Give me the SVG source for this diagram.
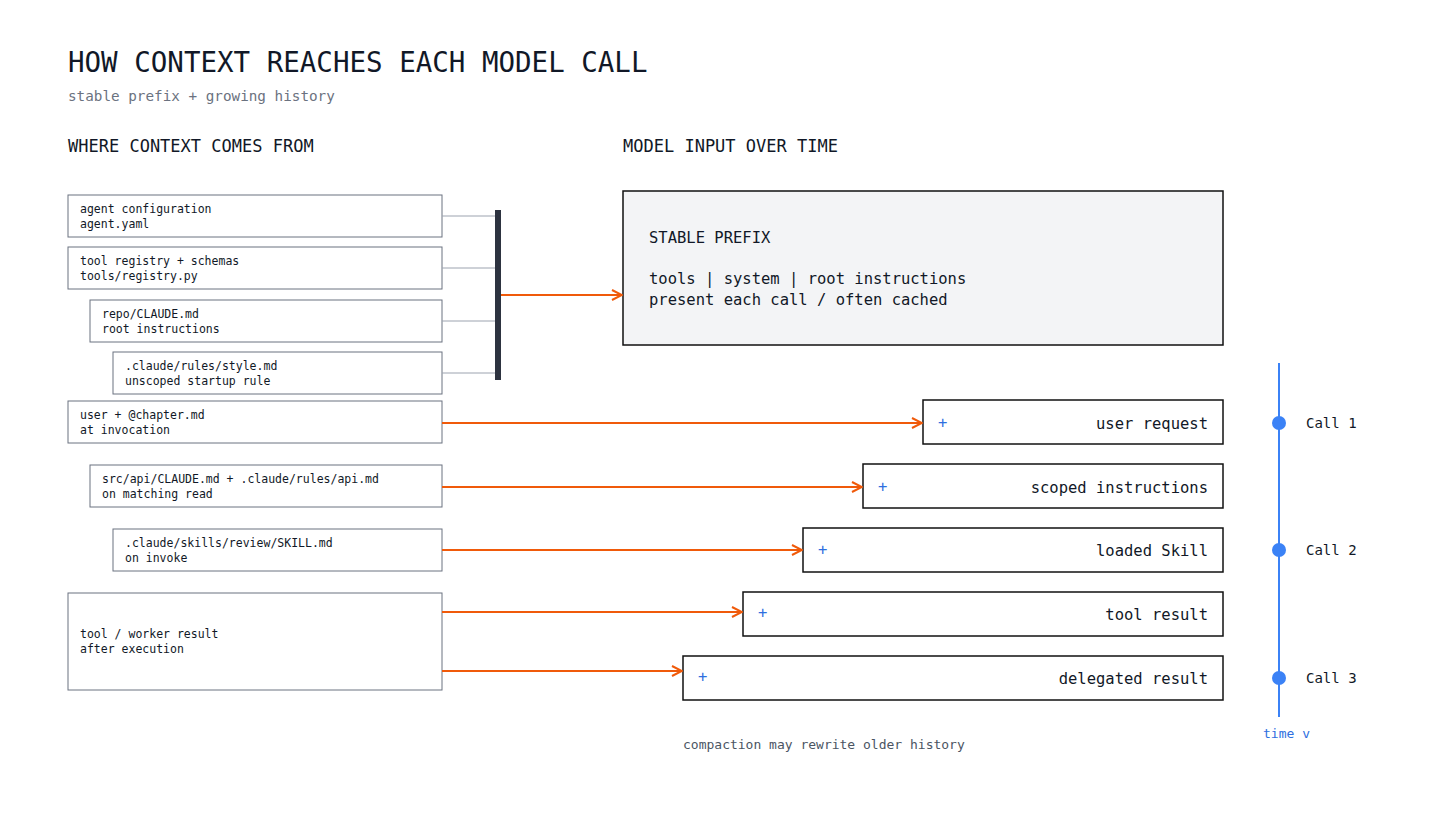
<svg xmlns="http://www.w3.org/2000/svg" width="1456" height="826" viewBox="0 0 1456 826">
<style>
text{font-family:"DejaVu Sans Mono","Liberation Mono",monospace;fill:#111827}
.src rect{fill:#fff;stroke:#6b7280;stroke-width:1}
.src text{font-size:11.5px}
.in rect{fill:#fff;stroke:#111;stroke-width:1.5}
.in text{font-size:15.5px}
.plus{fill:#2f6fe0 !important;font-size:15px}
.o{stroke:#f05a0a;stroke-width:2;fill:none;marker-end:url(#a)}
.g{stroke:#9ca3af;stroke-width:1}
.call{font-size:14px}
</style>
<defs><marker id="a" viewBox="0 0 12 12" refX="11" refY="6" markerWidth="12" markerHeight="12" markerUnits="userSpaceOnUse" orient="auto"><path d="M1,1 L11,6 L1,11" fill="none" stroke="#f05a0a" stroke-width="2"/></marker></defs>
<rect width="1456" height="826" fill="#fff"/>
<text x="68" y="72" font-size="27.5">HOW CONTEXT REACHES EACH MODEL CALL</text>
<text x="68" y="101" font-size="14.3" style="fill:#6b7280">stable prefix + growing history</text>
<text x="68" y="152" font-size="17">WHERE CONTEXT COMES FROM</text>
<text x="623" y="152" font-size="17">MODEL INPUT OVER TIME</text>
<g id="s1" class="src"><rect x="68" y="195" width="374" height="42"/><text x="80" y="213">agent configuration</text><text x="80" y="228">agent.yaml</text></g>
<g id="s2" class="src"><rect x="68" y="247" width="374" height="42"/><text x="80" y="265">tool registry + schemas</text><text x="80" y="280">tools/registry.py</text></g>
<g id="s3" class="src"><rect x="90" y="300" width="352" height="42"/><text x="102" y="318">repo/CLAUDE.md</text><text x="102" y="333">root instructions</text></g>
<g id="s4" class="src"><rect x="113" y="352" width="329" height="42"/><text x="125" y="370">.claude/rules/style.md</text><text x="125" y="385">unscoped startup rule</text></g>
<g id="s5" class="src"><rect x="68" y="401" width="374" height="42"/><text x="80" y="419">user + @chapter.md</text><text x="80" y="434">at invocation</text></g>
<g id="s6" class="src"><rect x="90" y="465" width="352" height="42"/><text x="102" y="483">src/api/CLAUDE.md + .claude/rules/api.md</text><text x="102" y="498">on matching read</text></g>
<g id="s7" class="src"><rect x="113" y="529" width="329" height="42"/><text x="125" y="547">.claude/skills/review/SKILL.md</text><text x="125" y="562">on invoke</text></g>
<g id="s8" class="src"><rect x="68" y="593" width="374" height="97"/><text x="80" y="638">tool / worker result</text><text x="80" y="653">after execution</text></g>
<g id="bar"><rect x="495" y="210" width="6" height="170" fill="#2d3340"/></g>
<g id="prefix"><rect x="623" y="191" width="600" height="154" fill="#f3f4f6" stroke="#111" stroke-width="1.5"/>
<text x="649" y="243" font-size="15.5">STABLE PREFIX</text><text x="649" y="284" font-size="15.5">tools | system | root instructions</text><text x="649" y="305" font-size="15.5">present each call / often cached</text></g>
<g id="i1" class="in"><rect x="923" y="400" width="300" height="44"/><text class="plus" x="938" y="428">+</text><text x="1208" y="429" text-anchor="end">user request</text></g>
<g id="i2" class="in"><rect x="863" y="464" width="360" height="44"/><text class="plus" x="878" y="492">+</text><text x="1208" y="493" text-anchor="end">scoped instructions</text></g>
<g id="i3" class="in"><rect x="803" y="528" width="420" height="44"/><text class="plus" x="818" y="555">+</text><text x="1208" y="556" text-anchor="end">loaded Skill</text></g>
<g id="i4" class="in"><rect x="743" y="592" width="480" height="44"/><text class="plus" x="758" y="618">+</text><text x="1208" y="620" text-anchor="end">tool result</text></g>
<g id="i5" class="in"><rect x="683" y="656" width="540" height="44"/><text class="plus" x="698" y="682">+</text><text x="1208" y="684" text-anchor="end">delegated result</text></g>
<g id="connectors">
<line class="g" x1="442" y1="216" x2="495" y2="216"/><line class="g" x1="442" y1="268" x2="495" y2="268"/><line class="g" x1="442" y1="321" x2="495" y2="321"/><line class="g" x1="442" y1="373" x2="495" y2="373"/>
<line class="o" x1="501" y1="295" x2="622" y2="295"/>
<line class="o" x1="442" y1="423" x2="922" y2="423"/>
<line class="o" x1="442" y1="487" x2="862" y2="487"/>
<line class="o" x1="442" y1="550" x2="802" y2="550"/>
<line class="o" x1="442" y1="612" x2="742" y2="612"/>
<line class="o" x1="442" y1="671" x2="682" y2="671"/>
</g>
<g id="timeline">
<line x1="1279" y1="363" x2="1279" y2="717" stroke="#3b82f6" stroke-width="2"/>
<circle cx="1279" cy="423" r="7" fill="#3b82f6"/><circle cx="1279" cy="550" r="7" fill="#3b82f6"/><circle cx="1279" cy="678" r="7" fill="#3b82f6"/>
<text class="call" x="1306" y="428">Call 1</text><text class="call" x="1306" y="555">Call 2</text><text class="call" x="1306" y="683">Call 3</text>
<text x="1263" y="738" font-size="13" style="fill:#2f6fe0">time v</text>
</g>
<text x="683" y="749" font-size="13" style="fill:#4b5563">compaction may rewrite older history</text>
</svg>
